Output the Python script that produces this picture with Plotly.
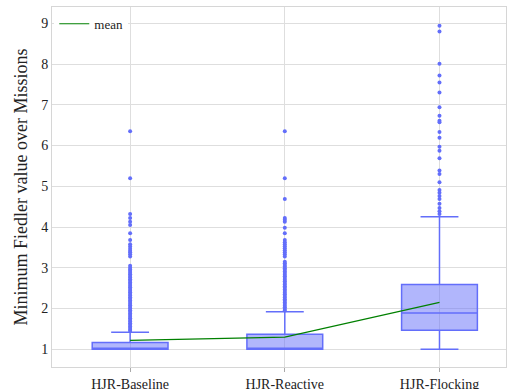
import plotly.graph_objects as go

categories = ["HJR-Baseline", "HJR-Reactive", "HJR-Flocking"]
q1 = [1.0, 1.0, 1.47]
median = [1.0, 1.0, 1.89]
q3 = [1.17, 1.37, 2.59]
lowerfence = [1.0, 1.0, 1.0]
upperfence = [1.42, 1.92, 4.25]
means = [1.22, 1.30, 2.15]

outliers_baseline = [6.35, 5.2, 4.32, 4.22, 4.13, 4.05, 3.85, 3.68, 3.58, 3.52, 3.47, 3.42,
                     3.38, 3.33, 3.28, 3.05, 3.0, 2.96, 2.92, 2.88, 2.84, 2.8, 2.76, 2.72,
                     2.68, 2.64, 2.6, 2.56, 2.52, 2.48, 2.44, 2.4, 2.36, 2.32, 2.28, 2.24,
                     2.2, 2.16, 2.12, 2.08, 2.04, 2.0, 1.96, 1.92, 1.88, 1.84, 1.8, 1.76,
                     1.72, 1.68, 1.64, 1.6, 1.56, 1.52, 1.48, 1.45]
outliers_reactive = [6.35, 5.2, 4.69, 4.22, 4.18, 4.13, 3.98, 3.85, 3.68, 3.63, 3.58, 3.53,
                     3.48, 3.43, 3.38, 3.33, 3.28, 3.15, 3.11, 3.07, 3.03, 2.99, 2.95, 2.91,
                     2.87, 2.83, 2.79, 2.75, 2.71, 2.67, 2.63, 2.59, 2.55, 2.51, 2.47, 2.43,
                     2.39, 2.35, 2.31, 2.27, 2.23, 2.19, 2.15, 2.11, 2.07, 2.03, 1.99, 1.95]
outliers_flocking = [8.94, 8.80, 8.01, 7.72, 7.55, 7.30, 6.94, 6.73, 6.61, 6.57, 6.33, 6.19,
                     5.97, 5.87, 5.69, 5.39, 5.30, 5.10, 4.91, 4.84, 4.76, 4.69, 4.57, 4.47,
                     4.39, 4.32]

blue = "#636efa"
font_family = "Liberation Serif"

fig = go.Figure()
fig.add_trace(go.Box(
    x=categories, q1=q1, median=median, q3=q3,
    lowerfence=lowerfence, upperfence=upperfence,
    width=0.49, whiskerwidth=0.5,
    line=dict(color=blue, width=1.5),
    fillcolor="rgba(99,110,250,0.5)",
    showlegend=False, hoverinfo="skip",
))
out_x = ([categories[0]] * len(outliers_baseline) + [categories[1]] * len(outliers_reactive)
         + [categories[2]] * len(outliers_flocking))
out_y = outliers_baseline + outliers_reactive + outliers_flocking
fig.add_trace(go.Scatter(
    x=out_x, y=out_y, mode="markers",
    marker=dict(color=blue, size=4),
    showlegend=False,
))
fig.add_trace(go.Scatter(
    x=categories, y=means, mode="lines", name="mean",
    line=dict(color="green", width=1.2),
))

fig.update_layout(
    width=507, height=389,
    margin=dict(l=52, r=1, t=7, b=22),
    paper_bgcolor="white", plot_bgcolor="white",
    font=dict(family=font_family, size=14, color="#222"),
    showlegend=True,
    legend=dict(x=0.005, y=0.995, xanchor="left", yanchor="top",
                bgcolor="white", font=dict(size=13, family=font_family),
                borderwidth=0, tracegroupgap=0),
    xaxis=dict(
        type="category", range=[-0.505, 2.43],
        showgrid=True, gridcolor="#dedede",
        showline=True, linecolor="#d6d6d6", mirror=True,
        ticks="outside", ticklen=4, tickcolor="#aaa",
        automargin=False,
        zeroline=False,
    ),
    yaxis=dict(
        range=[0.566, 9.40], dtick=1,
        showgrid=True, gridcolor="#dedede",
        showline=True, linecolor="#d6d6d6", mirror=True,
        ticks="",
        zeroline=False, automargin=False,
        title=dict(text="Minimum Fiedler value over Missions", font=dict(size=18), standoff=8),
    ),
)

fig.write_html("out.html", config={"displayModeBar": False},
               post_script="document.body.style.margin='0';")
